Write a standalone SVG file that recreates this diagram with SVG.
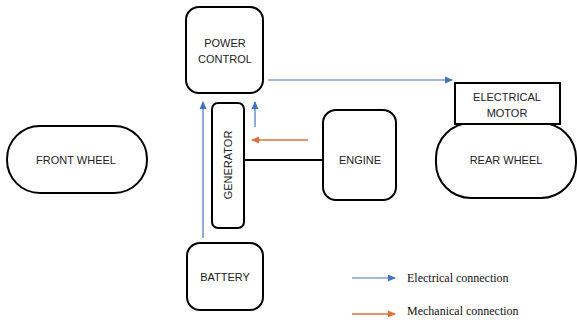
<svg xmlns="http://www.w3.org/2000/svg" width="577" height="320" viewBox="0 0 577 320">
<defs>
<style>
.box{fill:#fff;stroke:#000;stroke-width:2}
.t{font-family:"Liberation Sans",Arial,sans-serif;font-size:11px;fill:#222;text-anchor:middle;dominant-baseline:central}
.lg{font-family:"Liberation Serif","Times New Roman",serif;font-size:12px;fill:#111}
.el{stroke:#4472C4;stroke-width:1.2;fill:none}
.me{stroke:#E0703A;stroke-width:1.5;fill:none}
</style>
<marker id="ab" markerWidth="8" markerHeight="8" refX="7" refY="4" orient="auto" markerUnits="userSpaceOnUse"><path d="M0,0.5 L8,4 L0,7.5 z" fill="#4472C4"/></marker>
<marker id="ao" markerWidth="8" markerHeight="8" refX="7" refY="4" orient="auto" markerUnits="userSpaceOnUse"><path d="M0,0.5 L8,4 L0,7.5 z" fill="#E0703A"/></marker>
</defs>
<rect width="577" height="320" fill="#fff"/>
<g id="connectors">
<line class="el" x1="268" y1="80" x2="452" y2="80" marker-end="url(#ab)"/>
<line class="el" x1="203" y1="238" x2="203" y2="102" marker-end="url(#ab)"/>
<line class="el" x1="255" y1="127" x2="255" y2="102" marker-end="url(#ab)"/>
<line class="me" x1="308" y1="140" x2="252" y2="140" marker-end="url(#ao)"/>
<line x1="244" y1="160" x2="323" y2="160" stroke="#000" stroke-width="2"/>
</g>
<g id="power-control"><rect class="box" x="186" y="7" width="77" height="86" rx="13"/><text class="t" x="225" y="43">POWER</text><text class="t" x="225" y="59">CONTROL</text></g>
<g id="generator"><rect class="box" x="212" y="103" width="32" height="125" rx="6"/><text class="t" transform="translate(228,165) rotate(-90)">GENERATOR</text></g>
<g id="engine"><rect class="box" x="323" y="110" width="73" height="90" rx="13"/><text class="t" x="360" y="160">ENGINE</text></g>
<g id="front-wheel"><rect class="box" x="7" y="126" width="140" height="67" rx="33"/><text class="t" x="76" y="160">FRONT WHEEL</text></g>
<g id="rear-wheel"><rect class="box" x="436" y="123" width="140" height="75" rx="35"/><text class="t" x="506" y="160">REAR WHEEL</text></g>
<g id="electrical-motor"><rect x="455" y="83" width="105" height="41" fill="#fff" stroke="#000" stroke-width="2"/><text class="t" x="507" y="97">ELECTRICAL</text><text class="t" x="507" y="113">MOTOR</text></g>
<g id="battery"><rect class="box" x="187" y="243" width="76" height="67" rx="13"/><text class="t" x="225" y="277">BATTERY</text></g>
<g id="legend">
<line class="el" x1="352" y1="278" x2="395" y2="278" marker-end="url(#ab)"/>
<text class="lg" x="407" y="282">Electrical connection</text>
<line class="me" x1="352" y1="314" x2="395" y2="314" marker-end="url(#ao)"/>
<text class="lg" x="407" y="315">Mechanical connection</text>
</g>
</svg>
